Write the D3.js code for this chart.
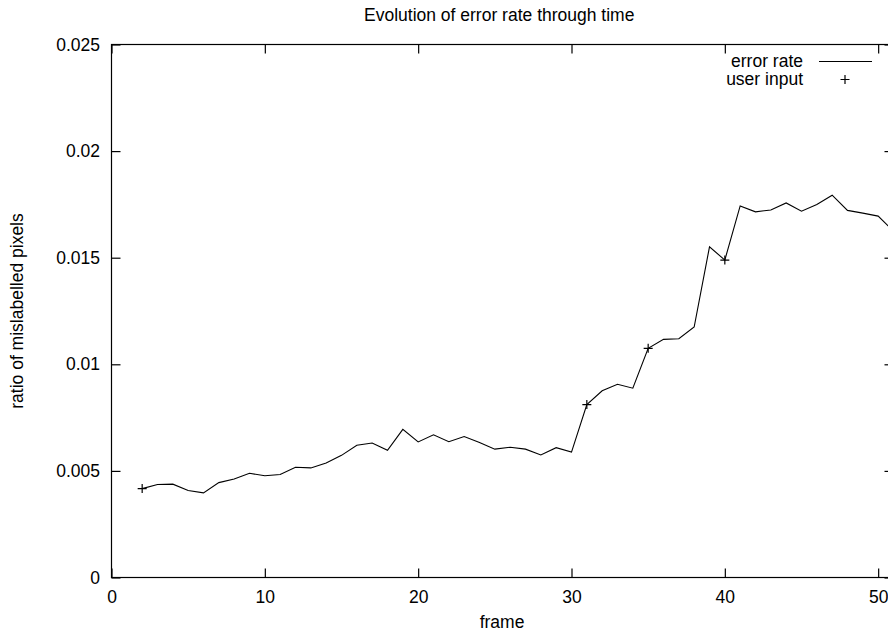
<!DOCTYPE html>
<html lang="en">
<head>
  <meta charset="utf-8">
  <title>Evolution of error rate through time</title>
  <style>
    body { margin: 0; background: #fff; }
    svg text { font-family: "Liberation Sans", Arial, Helvetica, sans-serif; font-size: 17.5px; fill: #000; }
  </style>
</head>
<body>
  <svg id="chart" width="888" height="633"></svg>
  <script src="https://cdn.jsdelivr.net/npm/d3@7"></script>
  <script>
    //
    // Data
    //
    var frames = d3.range(2, 52)
    var errorRate = [
      0.00417, 0.00436, 0.00438, 0.00408, 0.00397, 0.00445, 0.00462, 0.00489, 0.00477, 0.00483,
      0.00517, 0.00514, 0.00537, 0.00573, 0.00620, 0.00631, 0.00597, 0.00695, 0.00636, 0.00669,
      0.00637, 0.00661, 0.00633, 0.00602, 0.00611, 0.00602, 0.00575, 0.00609, 0.00588, 0.00811,
      0.00876, 0.00906, 0.00888, 0.01075, 0.01117, 0.01120, 0.01175, 0.01551, 0.01489, 0.01743,
      0.01715, 0.01724, 0.01757, 0.01718, 0.01750, 0.01793, 0.01722, 0.01709, 0.01695, 0.01624
    ]
    var inputFrames = [2, 31, 35, 40]
    var xTicks = [0, 10, 20, 30, 40, 50]
    var yTicks = [0, 0.005, 0.01, 0.015, 0.02, 0.025]

    //
    // Layout
    //
    var plotLeft = 111.5, plotRight = 893.5, plotTop = 44.5, plotBottom = 577.5
    var tickLen = 9
    var fontSize = 17.5

    var svg = d3.select('#chart')
    var x = d3.scaleLinear().domain([0, 51]).range([plotLeft, plotRight])
    var y = d3.scaleLinear().domain([0, 0.025]).range([plotBottom, plotTop])

    var series = frames.map(function(f, i) { return { frame: f, value: errorRate[i] } })
    var inputs = series.filter(function(d) { return inputFrames.indexOf(d.frame) >= 0 })

    // frame
    svg.append('rect')
      .attr('x', plotLeft).attr('y', plotTop)
      .attr('width', plotRight - plotLeft).attr('height', plotBottom - plotTop)
      .attr('fill', 'none').attr('stroke', '#000').attr('stroke-width', 1.2)

    var fmtY = function(d) { return d === 0 ? '0' : String(+d.toFixed(3)) }

    // axes with mirrored inward ticks
    svg.append('g').attr('transform', 'translate(0,' + plotBottom + ')')
      .call(d3.axisBottom(x).tickValues(xTicks).tickSizeInner(-tickLen).tickSizeOuter(0).tickPadding(13))
    svg.append('g').attr('transform', 'translate(0,' + plotTop + ')')
      .call(d3.axisTop(x).tickValues(xTicks).tickSizeInner(-tickLen).tickSizeOuter(0).tickFormat(''))
    svg.append('g').attr('transform', 'translate(' + plotLeft + ',0)')
      .call(d3.axisLeft(y).tickValues(yTicks).tickSizeInner(-tickLen).tickSizeOuter(0).tickPadding(11.5).tickFormat(fmtY))
    svg.append('g').attr('transform', 'translate(' + plotRight + ',0)')
      .call(d3.axisRight(y).tickValues(yTicks).tickSizeInner(-tickLen).tickSizeOuter(0).tickFormat(''))

    svg.selectAll('.domain').remove()
    svg.selectAll('.tick line').attr('stroke', '#000').attr('stroke-width', 1.2)
    svg.selectAll('.tick text').attr('font-size', fontSize).attr('font-family', null).attr('fill', '#000')

    // error rate line
    var line = d3.line()
      .x(function(d) { return x(d.frame) })
      .y(function(d) { return y(d.value) })

    svg.append('path')
      .datum(series)
      .attr('d', line)
      .attr('fill', 'none')
      .attr('stroke', '#000')
      .attr('stroke-width', 1.1)

    // user input markers
    var plusPath = 'M-4.5,0H4.5M0,-4.5V4.5'
    svg.selectAll('.input')
      .data(inputs)
      .join('path')
      .attr('class', 'input')
      .attr('d', plusPath)
      .attr('transform', function(d) { return 'translate(' + x(d.frame) + ',' + y(d.value) + ')' })
      .attr('stroke', '#000')
      .attr('stroke-width', 1.2)

    // titles
    svg.append('text')
      .attr('x', 364).attr('y', 21)
      .text('Evolution of error rate through time')

    svg.append('text')
      .attr('x', 502).attr('y', 628)
      .attr('text-anchor', 'middle')
      .text('frame')

    svg.append('text')
      .attr('transform', 'translate(23,311) rotate(-90)')
      .attr('text-anchor', 'middle')
      .text('ratio of mislabelled pixels')

    // legend
    var legend = svg.append('g')
    legend.append('text').attr('x', 803).attr('y', 67).attr('text-anchor', 'end').text('error rate')
    legend.append('line')
      .attr('x1', 819).attr('x2', 872).attr('y1', 61.5).attr('y2', 61.5)
      .attr('stroke', '#000').attr('stroke-width', 1.1)
    legend.append('text').attr('x', 803).attr('y', 85).attr('text-anchor', 'end').text('user input')
    legend.append('path')
      .attr('d', plusPath)
      .attr('transform', 'translate(845,79.5)')
      .attr('stroke', '#000').attr('stroke-width', 1.2)
  </script>
</body>
</html>
